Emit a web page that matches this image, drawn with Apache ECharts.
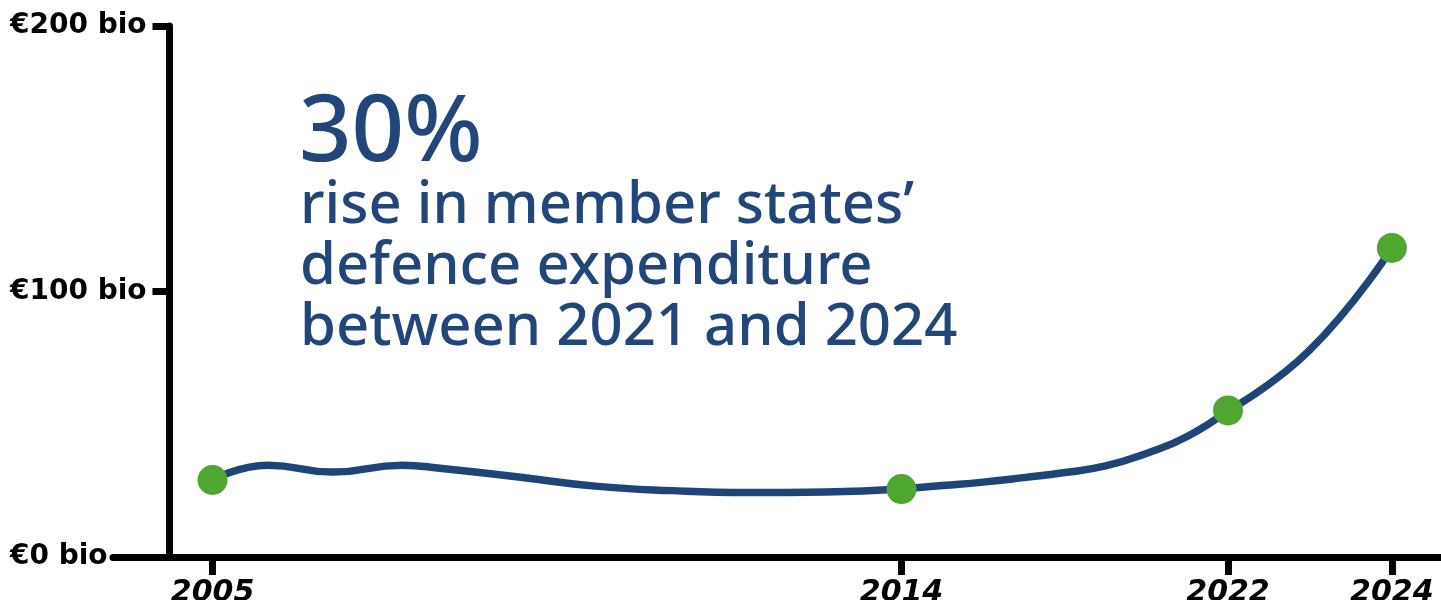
<!DOCTYPE html>
<html><head><meta charset="utf-8">
<script src="https://cdn.jsdelivr.net/npm/echarts@6/dist/echarts.min.js"></script>
<style>html,body{margin:0;padding:0;background:#fff}#c{width:1441px;height:600px}</style>
</head><body><div id="c"></div>
<script>
// ---- data ----
const years    = [2005, 2005.72, 2006.57, 2007.48, 2008, 2009, 2010, 2011, 2012, 2013, 2014, 2015, 2016, 2017, 2018, 2019, 2020, 2021, 2022, 2023, 2024];
const spending = [29.0, 34.6,    32.0,    34.6,    33.3, 30.1, 26.7, 25.0, 24.3, 24.5, 25.6, 26.9, 28.2, 29.9, 31.8, 34.3, 39.0, 45.4, 55.2, 78.0, 116.4];
const markedYears = [2005, 2014, 2022, 2024];
const yTickValues = [0, 100, 200];
const headline = '30%';
const headlineLines = ['rise in member states\u2019', 'defence expenditure', 'between 2021 and 2024'];

// ---- layout: the reference timeline is drawn in three stretches ----
const segments = [
  {from: 2005, to: 2014, min: 2003.70, max: 2014,   left: 113,   width: 788.5},
  {from: 2014, to: 2022, min: 2014,    max: 2022,   left: 901.5, width: 326.5},
  {from: 2022, to: 2024, min: 2022,    max: 2024.6, left: 1228,  width: 213}
];
const BLUE = '#1f4477', GREEN = '#4ea72e', TEXT_BLUE = '#22457a';
const GRID_TOP = 26, GRID_BOTTOM = 43;

const grid = [], xAxis = [], yAxis = [], series = [];
segments.forEach((s, i) => {
  grid.push({left: s.left, width: s.width, top: GRID_TOP, bottom: GRID_BOTTOM,
             containLabel: false, outerBoundsMode: 'none'});
  const ticks = markedYears.filter(y => (y >= s.min && y < s.max) || (i === segments.length - 1 && y === s.max));
  xAxis.push({
    type: 'value', gridIndex: i, min: s.min, max: s.max,
    axisLine: {show: true, onZero: false, lineStyle: {color: '#000', width: 7}},
    axisTick: {show: true, customValues: ticks, length: 18, lineStyle: {color: '#000', width: 7}},
    axisLabel: {show: true, customValues: ticks, margin: 21, color: '#000',
      fontFamily: 'DejaVu Sans', fontWeight: 'bold', fontStyle: 'italic', fontSize: 30,
      formatter: v => String(v)},
    splitLine: {show: false}
  });
  yAxis.push(i === 0 ? {
    type: 'value', gridIndex: 0, min: 0, max: 200, interval: 100, position: 'left', offset: -56.5,
    axisLine: {show: true, lineStyle: {color: '#000', width: 7}},
    axisTick: {show: true, length: 17, lineStyle: {color: '#000', width: 7}},
    axisLabel: {show: true, align: 'left', margin: 159.5, color: '#000',
      fontFamily: 'DejaVu Sans', fontWeight: 'bold', fontSize: 28, padding: [4, 0, 0, 0],
      formatter: v => yTickValues.includes(v) ? '\u20ac' + v + ' bio' : ''},
    splitLine: {show: false}
  } : {type: 'value', gridIndex: i, min: 0, max: 200, show: false, splitLine: {show: false}});
  const pts = [];
  years.forEach((y, k) => { if (y >= s.from && y <= s.to) pts.push([y, spending[k]]); });
  series.push({
    type: 'line', xAxisIndex: i, yAxisIndex: i, data: pts, smooth: 0.5,
    showSymbol: false, clip: false, z: 3,
    lineStyle: {color: BLUE, width: 7.5, cap: 'round'}, silent: true
  });
  const marks = markedYears.filter(y => y >= s.from && (y < s.to || i === segments.length - 1))
    .map(y => [y, spending[years.indexOf(y)]]);
  series.push({
    type: 'scatter', xAxisIndex: i, yAxisIndex: i, data: marks, symbolSize: 30, z: 5,
    itemStyle: {color: GREEN, opacity: 1}, clip: false, silent: true
  });
});

const chart = echarts.init(document.getElementById('c'), null, {renderer: 'canvas'});
chart.setOption({
  animation: false,
  backgroundColor: '#fff',
  grid, xAxis, yAxis, series,
  graphic: [
    {type: 'text', left: 299, top: 89, silent: true,
     style: {text: headline, fill: TEXT_BLUE, font: '500 92px "Noto Sans"'}},
    {type: 'text', left: 300, top: 176, silent: true,
     style: {text: headlineLines.join('\n'), fill: TEXT_BLUE, font: '500 58px "Noto Sans"', lineHeight: 61}}
  ]
});
</script></body></html>
